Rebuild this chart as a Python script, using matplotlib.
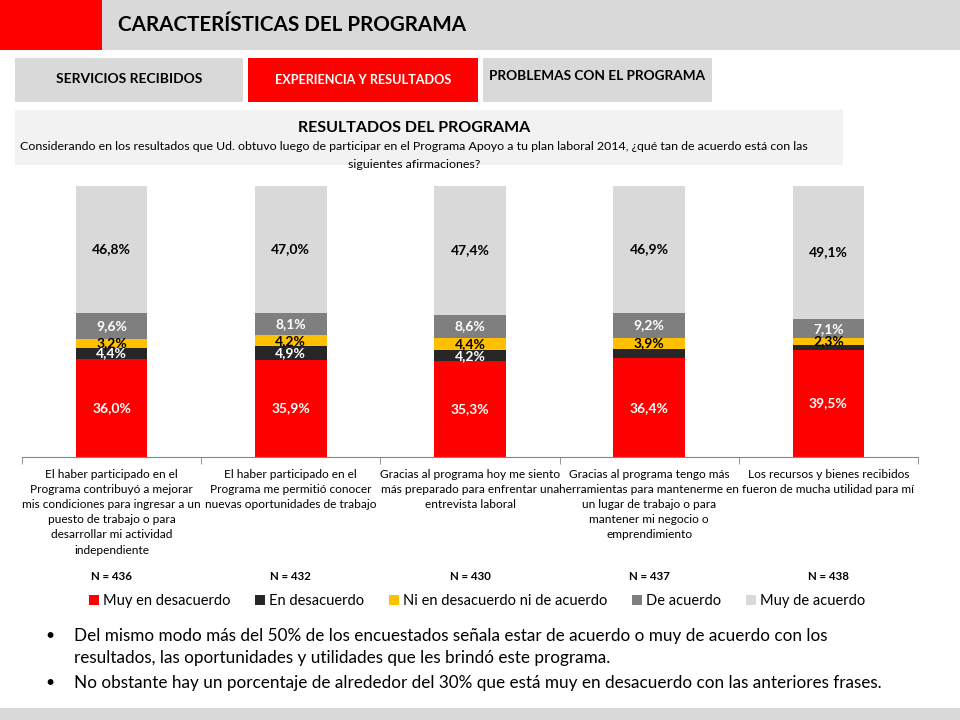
import matplotlib
matplotlib.use("Agg")
import matplotlib.pyplot as plt
import matplotlib.transforms as mtransforms
from matplotlib.patches import Rectangle
import numpy as np

plt.rcParams['font.family'] = ['Lato', 'DejaVu Sans']

# ---------------- data ----------------
categories = [
    "El haber participado en el\nPrograma contribuyó a mejorar\nmis condiciones para ingresar a un\npuesto de trabajo o para\ndesarrollar mi actividad\nindependiente",
    "El haber participado en el\nPrograma me permitió conocer\nnuevas oportunidades de trabajo",
    "Gracias al programa hoy me siento\nmás preparado para enfrentar una\nentrevista laboral",
    "Gracias al programa tengo más\nherramientas para mantenerme en\nun lugar de trabajo o para\nmantener mi negocio o\nemprendimiento",
    "Los recursos y bienes recibidos\nfueron de mucha utilidad para mí",
]
series_names = ["Muy en desacuerdo", "En desacuerdo", "Ni en desacuerdo ni de acuerdo",
                "De acuerdo", "Muy de acuerdo"]
muy_desacuerdo = [36.0, 35.9, 35.3, 36.4, 39.5]
en_desacuerdo = [4.4, 4.9, 4.2, 3.6, 2.0]
ni_ni = [3.2, 4.2, 4.4, 3.9, 2.3]
de_acuerdo = [9.6, 8.1, 8.6, 9.2, 7.1]
muy_acuerdo = [46.8, 47.0, 47.4, 46.9, 49.1]
n_labels = ["N = 436", "N = 432", "N = 430", "N = 437", "N = 438"]
# which data labels are shown in the original chart
show_labels = [
    [True] * 5,
    [True, True, True, False, False],
    [True] * 5,
    [True] * 5,
    [True] * 5,
]

series = [muy_desacuerdo, en_desacuerdo, ni_ni, de_acuerdo, muy_acuerdo]
colors = ["#FF0000", "#262626", "#FFC000", "#7F7F7F", "#D9D9D9"]
label_colors = ["white", "white", "black", "white", "black"]

W, H = 960, 720
fig = plt.figure(figsize=(W / 100, H / 100), dpi=100)

def fx(px):
    return px / W

def fy(py):
    return 1 - py / H

# ---------------- header ----------------
fig.patches.append(Rectangle((0, fy(50)), 1, 50 / H, transform=fig.transFigure,
                             facecolor="#D9D9D9", edgecolor="none", zorder=0))
fig.patches.append(Rectangle((0, fy(50)), fx(102), 50 / H, transform=fig.transFigure,
                             facecolor="#FF0000", edgecolor="none", zorder=1))
fig.text(fx(118), fy(25), "CARACTERÍSTICAS DEL PROGRAMA", fontsize=14.9, fontweight="bold",
         va="center", ha="left", color="black")

# tabs
tabs = [((15, 58, 228, 44), "#D9D9D9", "SERVICIOS RECIBIDOS", "black", 10, 79),
        ((248, 58, 230, 44), "#FF0000", "EXPERIENCIA Y RESULTADOS", "white", 9.1, 80),
        ((483, 58, 229, 44), "#D9D9D9", "PROBLEMAS CON EL PROGRAMA", "black", 9.8, 76)]
for (x0, y0, w, h), fc, txt, tc, fs, ty in tabs:
    fig.patches.append(Rectangle((fx(x0), fy(y0 + h)), w / W, h / H, transform=fig.transFigure,
                                 facecolor=fc, edgecolor="none"))
    fig.text(fx(x0 + w / 2), fy(ty), txt, fontsize=fs, fontweight="bold", color=tc,
             ha="center", va="center")

# results box
fig.patches.append(Rectangle((fx(15), fy(165)), 828 / W, 55 / H, transform=fig.transFigure,
                             facecolor="#F2F2F2", edgecolor="none"))
fig.text(fx(414), fy(128), "RESULTADOS DEL PROGRAMA", fontsize=11.5, fontweight="bold",
         ha="center", va="center")
fig.text(fx(20), fy(146), "Considerando en los resultados que Ud. obtuvo luego de participar en el "
         "Programa Apoyo a tu plan laboral 2014, ¿qué tan de acuerdo está con las",
         fontsize=8.9, ha="left", va="center")
fig.text(fx(414), fy(164), "siguientes afirmaciones?", fontsize=8.9, ha="center", va="center")

# ---------------- chart ----------------
ax = fig.add_axes([fx(22), fy(457), (918 - 22) / W, (457 - 186) / H])
x = np.arange(len(categories))
bottom = np.zeros(len(categories))
handles = []
for si, (vals, col, lc) in enumerate(zip(series, colors, label_colors)):
    vals = np.array(vals)
    b = ax.bar(x, vals, width=0.4, bottom=bottom, color=col, edgecolor="none",
               label=series_names[si])
    handles.append(b)
    for i, v in enumerate(vals):
        if show_labels[si][i]:
            ax.text(x[i], bottom[i] + v / 2, f"{v:.1f}%".replace(".", ","),
                    ha="center", va="center", color=lc, fontsize=10, fontweight="bold")
    bottom += vals

ax.set_xlim(-0.5, len(categories) - 0.5)
ax.set_ylim(0, 100)
for s in ["top", "right", "left"]:
    ax.spines[s].set_visible(False)
ax.spines["bottom"].set_color("#868686")
ax.set_yticks([])
ax.set_xticks(x)
ax.set_xticklabels(categories, fontsize=8.6, linespacing=1.46, va="top")
ax.tick_params(axis="x", which="major", length=0, pad=8.5)
ax.set_xticks(np.arange(-0.5, len(categories)), minor=True)
ax.tick_params(axis="x", which="minor", length=5, color="#868686", direction="out")

ntrans = mtransforms.blended_transform_factory(ax.transData, fig.transFigure)
for i, nl in enumerate(n_labels):
    ax.text(x[i], fy(576), nl, transform=ntrans, fontsize=8.3,
            fontweight="bold", ha="center", va="center")

fig.legend(handles, series_names, loc="center", bbox_to_anchor=(fx(477), fy(601)), ncol=5,
           frameon=False, fontsize=10.5, handlelength=0.7, handleheight=0.7,
           handletextpad=0.25, columnspacing=1.7, borderaxespad=0)

# ---------------- bullets ----------------
bullets = [(636, "Del mismo modo más del 50% de los encuestados señala estar de acuerdo o muy de acuerdo con los"),
           (658, "resultados, las oportunidades y utilidades que les brindó este programa."),
           (683, "No obstante hay un porcentaje de alrededor del 30% que está muy en desacuerdo con las anteriores frases.")]
for yy, txt in bullets:
    fig.text(fx(74), fy(yy), txt, fontsize=12.3, ha="left", va="center")
for yy in (636, 683):
    fig.text(fx(45), fy(yy), "•", fontsize=11.3, ha="left", va="center")

fig.patches.append(Rectangle((0, 0), 1, 12 / H, transform=fig.transFigure,
                             facecolor="#D9D9D9", edgecolor="none"))

fig.savefig("out.png", dpi=100)
